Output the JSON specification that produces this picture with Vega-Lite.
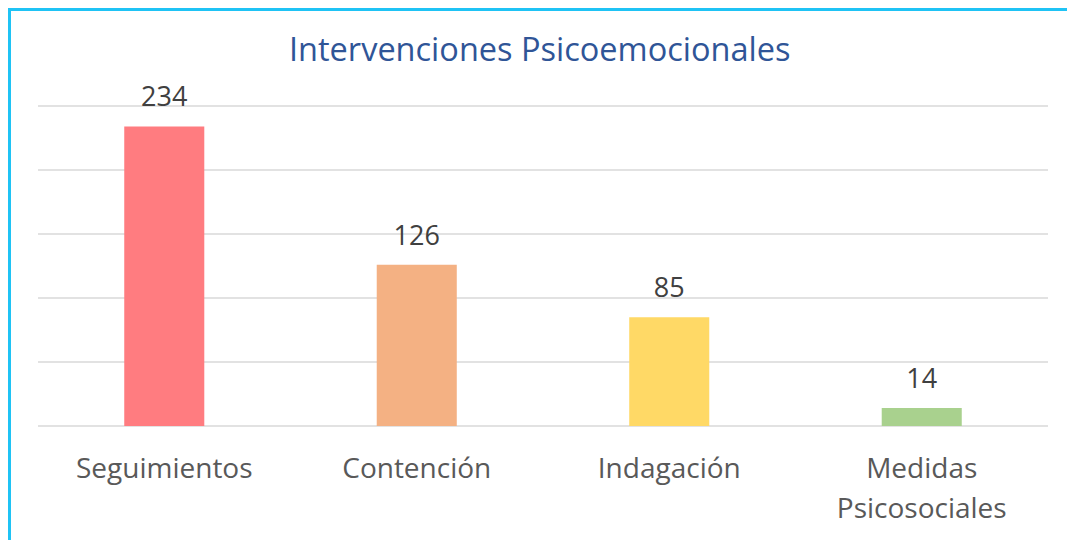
{
  "$schema": "https://vega.github.io/schema/vega-lite/v6.json",
  "autosize": {"type": "none"},
  "padding": {"left": 9.5, "top": 9.5, "right": -3, "bottom": -3},
  "width": 1060.5,
  "height": 533.5,
  "background": "white",
  "config": {
    "view": {"stroke": "#1FC3F5", "strokeWidth": 3},
    "font": "Open Sans"
  },
  "title": {
    "text": "Intervenciones Psicoemocionales",
    "font": "Open Sans",
    "fontSize": 32.5,
    "fontWeight": "normal",
    "color": "#2F5597",
    "anchor": "middle",
    "frame": "group",
    "baseline": "alphabetic",
    "offset": -83.5
  },
  "resolve": {"scale": {"x": "independent"}},
  "layer": [
    {
      "data": {"values": [{"g": 0}, {"g": 50}, {"g": 100}, {"g": 150}, {"g": 200}, {"g": 250}]},
      "mark": {"type": "rule", "color": "#D9D9D9", "strokeWidth": 1.5},
      "encoding": {
        "y": {"field": "g", "type": "quantitative", "scale": {"domain": [0, 250], "range": [416.5, 96.5]}, "axis": null},
        "x": {"datum": 0, "type": "quantitative", "scale": {"domain": [0, 1], "range": [28.5, 1038.5]}, "axis": null},
        "x2": {"datum": 1}
      }
    },
    {
      "data": {"values": [
        {"cat": "Seguimientos", "v": 234},
        {"cat": "Contención", "v": 126},
        {"cat": "Indagación", "v": 85},
        {"cat": "Medidas Psicosociales", "v": 14}
      ]},
      "encoding": {
        "x": {
          "field": "cat", "type": "nominal", "sort": null,
          "scale": {"range": [28.5, 1038.5], "paddingInner": 0.683, "paddingOuter": 0.3416},
          "axis": {
            "title": null, "domain": false, "ticks": false, "grid": false,
            "offset": -117, "labelAngle": 0,
            "labelFont": "Open Sans", "labelFontSize": 28, "labelColor": "#595959",
            "labelPadding": 29, "labelLineHeight": 40, "labelBaseline": "top",
            "labelExpr": "split(datum.label, ' ')"
          }
        },
        "y": {"field": "v", "type": "quantitative", "scale": {"domain": [0, 250], "range": [416.5, 96.5]}, "axis": null}
      },
      "layer": [
        {
          "mark": {"type": "bar"},
          "encoding": {
            "color": {
              "field": "cat", "type": "nominal", "sort": null, "legend": null,
              "scale": {"domain": ["Seguimientos", "Contención", "Indagación", "Medidas Psicosociales"], "range": ["#FF7C80", "#F4B183", "#FFD966", "#A9D18E"]}
            }
          }
        },
        {
          "mark": {"type": "text", "font": "Open Sans", "fontSize": 27, "color": "#404040", "baseline": "alphabetic", "dy": -20},
          "encoding": {"text": {"field": "v", "type": "quantitative"}}
        }
      ]
    }
  ]
}
